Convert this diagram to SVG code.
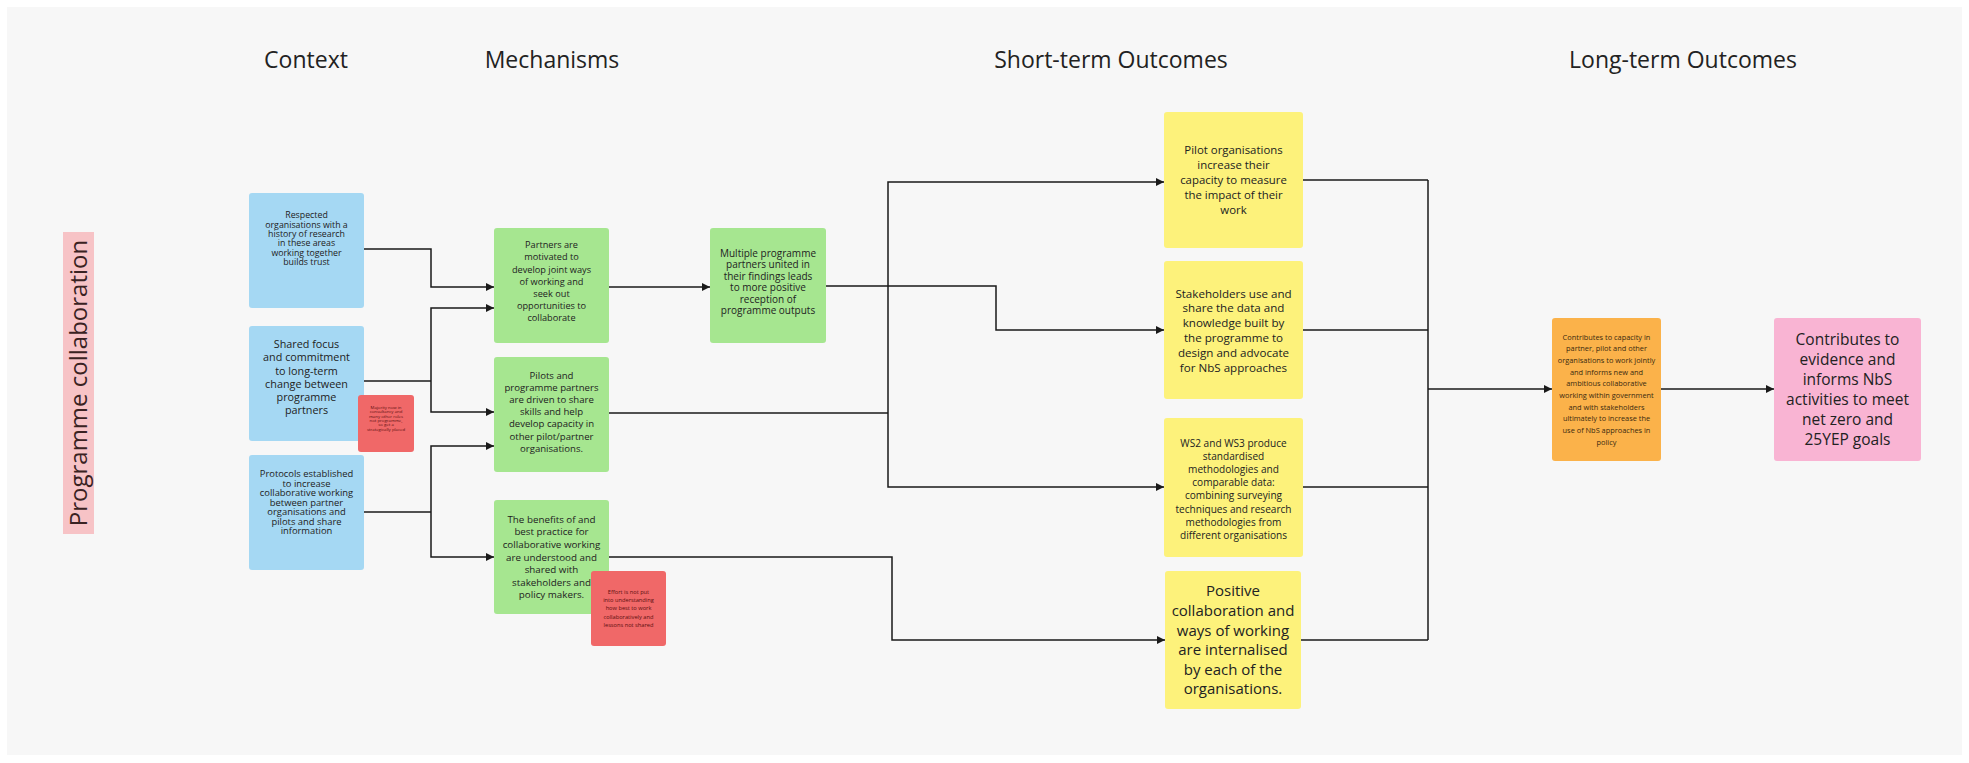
<svg xmlns="http://www.w3.org/2000/svg" width="1969" height="763" viewBox="0 0 1969 763">
<style>
.hdr{font-family:"Open Sans","Liberation Sans",sans-serif;font-size:23px;fill:#222;text-anchor:middle}
.t{font-family:"Open Sans","Liberation Sans",sans-serif;fill:#222;text-anchor:middle}
.rt{font-family:"Open Sans","Liberation Sans",sans-serif;fill:#5c1010;text-anchor:middle}
.blue{fill:#a5d8f3}
.green{fill:#a6e690}
.yellow{fill:#fdf27b}
.red{fill:#f06868}
.orange{fill:#fbb24a}
.pink{fill:#f9b4d3}
.conn path{fill:none;stroke:#1a1a1a;stroke-width:1.5}
.arr{marker-end:url(#ah)}
</style>
<defs>
<marker id="ah" markerUnits="userSpaceOnUse" markerWidth="9" markerHeight="9" refX="8" refY="4" orient="auto">
<path d="M0,0 L8,4 L0,8 z" fill="#1a1a1a"/>
</marker>
</defs>
<rect x="0" y="0" width="1969" height="763" fill="#ffffff"/>
<rect x="7" y="7" width="1955" height="748" fill="#f7f7f7"/>

<g id="headers">
<text class="hdr" x="306" y="68">Context</text>
<text class="hdr" x="552" y="68">Mechanisms</text>
<text class="hdr" x="1111" y="68">Short-term Outcomes</text>
<text class="hdr" x="1683" y="68">Long-term Outcomes</text>
</g>

<g id="label-programme">
<rect x="63" y="232" width="31" height="302" fill="#f7c3c6"/>
<text class="t" transform="translate(87,383) rotate(-90)" x="0" y="0" style="font-size:24px;fill:#3a2222">Programme collaboration</text>
</g>

<g class="conn" id="connectors">
<path class="arr" d="M364,249 H431 V287 H494"/>
<path d="M364,381 H431"/>
<path class="arr" d="M431,381 V308 H494"/>
<path class="arr" d="M431,381 V412 H494"/>
<path d="M364,512 H431"/>
<path class="arr" d="M431,512 V446 H494"/>
<path class="arr" d="M431,512 V557 H494"/>
<path class="arr" d="M609,287 H710"/>
<path class="arr" d="M826,286 H996 V330 H1164"/>
<path d="M609,413 H888"/>
<path class="arr" d="M888,413 V182 H1164"/>
<path class="arr" d="M888,413 V487 H1164"/>
<path class="arr" d="M609,557 H892 V640 H1165"/>
<path d="M1303,180 H1428"/>
<path d="M1303,330 H1428"/>
<path d="M1303,487 H1428"/>
<path d="M1301,640 H1428"/>
<path d="M1428,180 V640"/>
<path class="arr" d="M1428,389 H1552"/>
<path class="arr" d="M1661,389 H1774"/>
</g>

<g id="ctx1">
<rect class="blue" x="249" y="193" width="115" height="115" rx="3"/>
<text class="t" style="font-size:8.8px"><tspan x="306.5" y="218.2">Respected</tspan><tspan x="306.5" dy="9.4">organisations with a</tspan><tspan x="306.5" dy="9.4">history of research</tspan><tspan x="306.5" dy="9.4">in these areas</tspan><tspan x="306.5" dy="9.4">working together</tspan><tspan x="306.5" dy="9.4">builds trust</tspan></text>
</g>

<g id="ctx2">
<rect class="blue" x="249" y="326" width="115" height="115" rx="3"/>
<text class="t" style="font-size:10.8px"><tspan x="306.5" y="347.9">Shared focus</tspan><tspan x="306.5" dy="13.3">and commitment</tspan><tspan x="306.5" dy="13.3">to long-term</tspan><tspan x="306.5" dy="13.3">change between</tspan><tspan x="306.5" dy="13.3">programme</tspan><tspan x="306.5" dy="13.3">partners</tspan></text>
</g>

<g id="ctx3">
<rect class="blue" x="249" y="455" width="115" height="115" rx="3"/>
<text class="t" style="font-size:9.4px"><tspan x="306.5" y="477.4">Protocols established</tspan><tspan x="306.5" dy="9.45">to increase</tspan><tspan x="306.5" dy="9.45">collaborative working</tspan><tspan x="306.5" dy="9.45">between partner</tspan><tspan x="306.5" dy="9.45">organisations and</tspan><tspan x="306.5" dy="9.45">pilots and share</tspan><tspan x="306.5" dy="9.45">information</tspan></text>
</g>

<g id="note1">
<rect class="red" x="358" y="395" width="56" height="57" rx="3"/>
<text class="rt" style="font-size:4.3px"><tspan x="386" y="408.8">Majority now in</tspan><tspan x="386" dy="4.4">consultancy and</tspan><tspan x="386" dy="4.4">many other roles</tspan><tspan x="386" dy="4.4">not programme,</tspan><tspan x="386" dy="4.4">so get a</tspan><tspan x="386" dy="4.4">strategically placed</tspan></text>
</g>

<g id="mech1">
<rect class="green" x="494" y="228" width="115" height="115" rx="3"/>
<text class="t" style="font-size:9.2px"><tspan x="551.5" y="248.3">Partners are</tspan><tspan x="551.5" dy="12.1">motivated to</tspan><tspan x="551.5" dy="12.1">develop joint ways</tspan><tspan x="551.5" dy="12.1">of working and</tspan><tspan x="551.5" dy="12.1">seek out</tspan><tspan x="551.5" dy="12.1">opportunities to</tspan><tspan x="551.5" dy="12.1">collaborate</tspan></text>
</g>

<g id="mech-mid">
<rect class="green" x="710" y="228" width="116" height="115" rx="3"/>
<text class="t" style="font-size:10px"><tspan x="768" y="256.9">Multiple programme</tspan><tspan x="768" dy="11.4">partners united in</tspan><tspan x="768" dy="11.4">their findings leads</tspan><tspan x="768" dy="11.4">to more positive</tspan><tspan x="768" dy="11.4">reception of</tspan><tspan x="768" dy="11.4">programme outputs</tspan></text>
</g>

<g id="mech2">
<rect class="green" x="494" y="357" width="115" height="115" rx="3"/>
<text class="t" style="font-size:9.6px"><tspan x="551.5" y="378.5">Pilots and</tspan><tspan x="551.5" dy="12.2">programme partners</tspan><tspan x="551.5" dy="12.2">are driven to share</tspan><tspan x="551.5" dy="12.2">skills and help</tspan><tspan x="551.5" dy="12.2">develop capacity in</tspan><tspan x="551.5" dy="12.2">other pilot/partner</tspan><tspan x="551.5" dy="12.2">organisations.</tspan></text>
</g>

<g id="mech3">
<rect class="green" x="494" y="500" width="115" height="114" rx="3"/>
<text class="t" style="font-size:9.8px"><tspan x="551.5" y="522.8">The benefits of and</tspan><tspan x="551.5" dy="12.6">best practice for</tspan><tspan x="551.5" dy="12.6">collaborative working</tspan><tspan x="551.5" dy="12.6">are understood and</tspan><tspan x="551.5" dy="12.6">shared with</tspan><tspan x="551.5" dy="12.6">stakeholders and</tspan><tspan x="551.5" dy="12.6">policy makers.</tspan></text>
</g>

<g id="note2">
<rect class="red" x="591" y="571" width="75" height="75" rx="3"/>
<text class="rt" style="font-size:5.7px"><tspan x="628.5" y="593.7">Effort is not put</tspan><tspan x="628.5" dy="8.3">into understanding</tspan><tspan x="628.5" dy="8.3">how best to work</tspan><tspan x="628.5" dy="8.3">collaboratively and</tspan><tspan x="628.5" dy="8.3">lessons not shared</tspan></text>
</g>

<g id="st1">
<rect class="yellow" x="1164" y="112" width="139" height="136" rx="3"/>
<text class="t" style="font-size:11.4px"><tspan x="1233.5" y="154.1">Pilot organisations</tspan><tspan x="1233.5" dy="15">increase their</tspan><tspan x="1233.5" dy="15">capacity to measure</tspan><tspan x="1233.5" dy="15">the impact of their</tspan><tspan x="1233.5" dy="15">work</tspan></text>
</g>

<g id="st2">
<rect class="yellow" x="1164" y="261" width="139" height="138" rx="3"/>
<text class="t" style="font-size:11.6px"><tspan x="1233.5" y="297.5">Stakeholders use and</tspan><tspan x="1233.5" dy="14.9">share the data and</tspan><tspan x="1233.5" dy="14.9">knowledge built by</tspan><tspan x="1233.5" dy="14.9">the programme to</tspan><tspan x="1233.5" dy="14.9">design and advocate</tspan><tspan x="1233.5" dy="14.9">for NbS approaches</tspan></text>
</g>

<g id="st3">
<rect class="yellow" x="1164" y="418" width="139" height="139" rx="3"/>
<text class="t" style="font-size:10.1px"><tspan x="1233.5" y="447">WS2 and WS3 produce</tspan><tspan x="1233.5" dy="13.1">standardised</tspan><tspan x="1233.5" dy="13.1">methodologies and</tspan><tspan x="1233.5" dy="13.1">comparable data:</tspan><tspan x="1233.5" dy="13.1">combining surveying</tspan><tspan x="1233.5" dy="13.1">techniques and research</tspan><tspan x="1233.5" dy="13.1">methodologies from</tspan><tspan x="1233.5" dy="13.1">different organisations</tspan></text>
</g>

<g id="st4">
<rect class="yellow" x="1165" y="571" width="136" height="138" rx="3"/>
<text class="t" style="font-size:15px"><tspan x="1233" y="596.4">Positive</tspan><tspan x="1233" dy="19.6">collaboration and</tspan><tspan x="1233" dy="19.6">ways of working</tspan><tspan x="1233" dy="19.6">are internalised</tspan><tspan x="1233" dy="19.6">by each of the</tspan><tspan x="1233" dy="19.6">organisations.</tspan></text>
</g>

<g id="lt1">
<rect class="orange" x="1552" y="318" width="109" height="143" rx="3"/>
<text class="t" style="font-size:7.4px;fill:#3a2a10"><tspan x="1606.5" y="339.5">Contributes to capacity in</tspan><tspan x="1606.5" dy="11.7">partner, pilot and other</tspan><tspan x="1606.5" dy="11.7">organisations to work jointly</tspan><tspan x="1606.5" dy="11.7">and informs new and</tspan><tspan x="1606.5" dy="11.7">ambitious collaborative</tspan><tspan x="1606.5" dy="11.7">working within government</tspan><tspan x="1606.5" dy="11.7">and with stakeholders</tspan><tspan x="1606.5" dy="11.7">ultimately to increase the</tspan><tspan x="1606.5" dy="11.7">use of NbS approaches in</tspan><tspan x="1606.5" dy="11.7">policy</tspan></text>
</g>

<g id="lt2">
<rect class="pink" x="1774" y="318" width="147" height="143" rx="3"/>
<text class="t" style="font-size:15.5px"><tspan x="1847.5" y="345">Contributes to</tspan><tspan x="1847.5" dy="20">evidence and</tspan><tspan x="1847.5" dy="20">informs NbS</tspan><tspan x="1847.5" dy="20">activities to meet</tspan><tspan x="1847.5" dy="20">net zero and</tspan><tspan x="1847.5" dy="20">25YEP goals</tspan></text>
</g>
</svg>
